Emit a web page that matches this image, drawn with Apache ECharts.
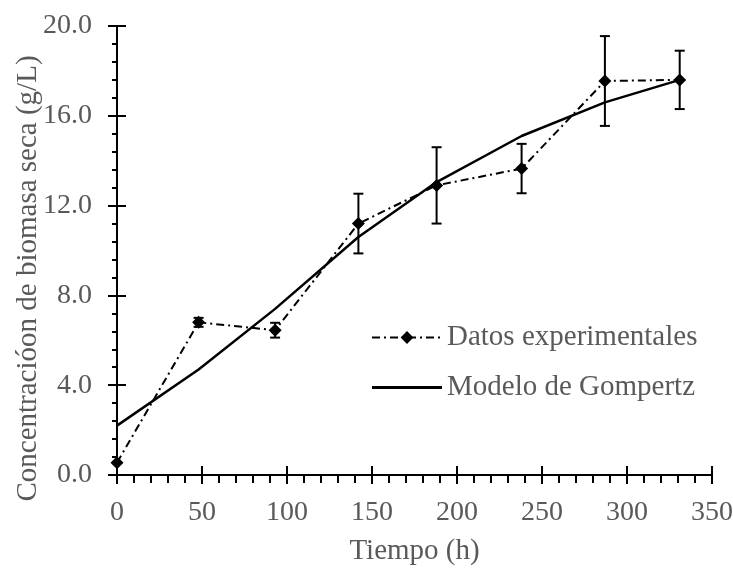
<!DOCTYPE html>
<html>
<head>
<meta charset="utf-8">
<script src="https://cdn.jsdelivr.net/npm/echarts@6/dist/echarts.min.js"></script>
<style>
  html, body { margin: 0; padding: 0; background: #fff; }
  #chart { width: 733px; height: 568px; }
</style>
</head>
<body>
<div id="chart"></div>
<script>
// tiempo (h)
var tiempo = [0, 48, 93, 142, 188, 238, 287, 331];
// datos experimentales (g/L) y desviacion
var datosExp = [0.55, 6.8, 6.45, 11.2, 12.9, 13.65, 17.55, 17.6];
var errorExp = [0, 0.2, 0.33, 1.33, 1.7, 1.1, 2.0, 1.3];
// modelo de Gompertz
var gompertz = [2.2, 4.7, 7.4, 10.6, 13.05, 15.1, 16.6, 17.6];

var fuente = 'Liberation Serif';
var gris = '#595959';

var puntosExp = tiempo.map(function (t, i) { return [t, datosExp[i]]; });
var puntosGomp = tiempo.map(function (t, i) { return [t, gompertz[i]]; });
var barrasError = tiempo.map(function (t, i) {
    return [t, datosExp[i] - errorExp[i], datosExp[i] + errorExp[i]];
});

var myChart = echarts.init(document.getElementById('chart'));

var option = {
    animation: false,
    grid: { left: 117, right: 21, top: 26, bottom: 93, containLabel: false, outerBoundsMode: 'none' },
    legend: {
        orient: 'vertical',
        left: 366,
        top: 318,
        itemWidth: 70,
        itemHeight: 16,
        itemGap: 21,
        textStyle: { fontFamily: fuente, fontSize: 29, color: gris },
        data: [
            { name: 'Datos experimentales' },
            { name: 'Modelo de Gompertz', icon: 'path://M0,0 L70,0 L70,3 L0,3 Z' }
        ]
    },
    xAxis: [{
        type: 'value',
        min: 0, max: 350, interval: 50,
        name: 'Tiempo (h)',
        nameLocation: 'middle',
        nameGap: 62,
        nameMoveOverlap: false,
        nameTextStyle: { fontFamily: fuente, fontSize: 29, color: gris },
        axisLine: { lineStyle: { color: '#000', width: 2 } },
        axisTick: { length: 9, lineStyle: { color: '#000', width: 2 } },
        minorTick: { show: true, splitNumber: 5, length: 8, lineStyle: { color: '#000', width: 2 } },
        axisLabel: { fontFamily: fuente, fontSize: 28, color: gris, margin: 24 },
        splitLine: { show: false }
    }, {
        type: 'value',
        position: 'bottom',
        min: 0, max: 350, interval: 50,
        axisLine: { show: false },
        axisTick: { inside: true, length: 9, lineStyle: { color: '#000', width: 2 } },
        axisLabel: { show: false },
        splitLine: { show: false }
    }],
    yAxis: [{
        type: 'value',
        min: 0, max: 20, interval: 4,
        name: 'Concentracióon de biomasa seca (g/L)',
        nameLocation: 'middle',
        nameGap: 74,
        nameMoveOverlap: false,
        nameTextStyle: { fontFamily: fuente, fontSize: 29, color: gris, padding: [0, 56, 0, 0] },
        axisLine: { show: true, lineStyle: { color: '#000', width: 2 } },
        axisTick: { show: true, length: 9, lineStyle: { color: '#000', width: 2 } },
        minorTick: { show: true, splitNumber: 5, length: 5, lineStyle: { color: '#000', width: 2 } },
        axisLabel: {
            fontFamily: fuente, fontSize: 28, color: gris, margin: 25,
            formatter: function (v) { return v.toFixed(1); }
        },
        splitLine: { show: false }
    }, {
        type: 'value',
        position: 'left',
        min: 0, max: 20, interval: 4,
        axisLine: { show: false },
        axisTick: { show: true, inside: true, length: 9, lineStyle: { color: '#000', width: 2 } },
        axisLabel: { show: false },
        splitLine: { show: false }
    }],
    series: [
        {
            name: 'Modelo de Gompertz',
            type: 'line',
            data: puntosGomp,
            symbol: 'none',
            lineStyle: { color: '#000', width: 2.5 },
            itemStyle: { color: '#000' },
            z: 2
        },
        {
            name: 'Datos experimentales',
            type: 'line',
            data: puntosExp,
            symbol: 'diamond',
            symbolSize: 13,
            lineStyle: { color: '#000', width: 2, type: [8, 4, 2, 4] },
            itemStyle: { color: '#000' },
            z: 3
        },
        {
            name: 'error',
            type: 'custom',
            data: barrasError,
            z: 4,
            renderItem: function (params, api) {
                var x = api.value(0);
                var lo = api.coord([x, api.value(1)]);
                var hi = api.coord([x, api.value(2)]);
                var w = 5;
                var estilo = { stroke: '#000', lineWidth: 2 };
                return {
                    type: 'group',
                    children: [
                        { type: 'line', shape: { x1: lo[0], y1: lo[1], x2: hi[0], y2: hi[1] }, style: estilo },
                        { type: 'line', shape: { x1: lo[0] - w, y1: lo[1], x2: lo[0] + w, y2: lo[1] }, style: estilo },
                        { type: 'line', shape: { x1: hi[0] - w, y1: hi[1], x2: hi[0] + w, y2: hi[1] }, style: estilo }
                    ]
                };
            }
        }
    ]
};

myChart.setOption(option);
</script>
</body>
</html>
